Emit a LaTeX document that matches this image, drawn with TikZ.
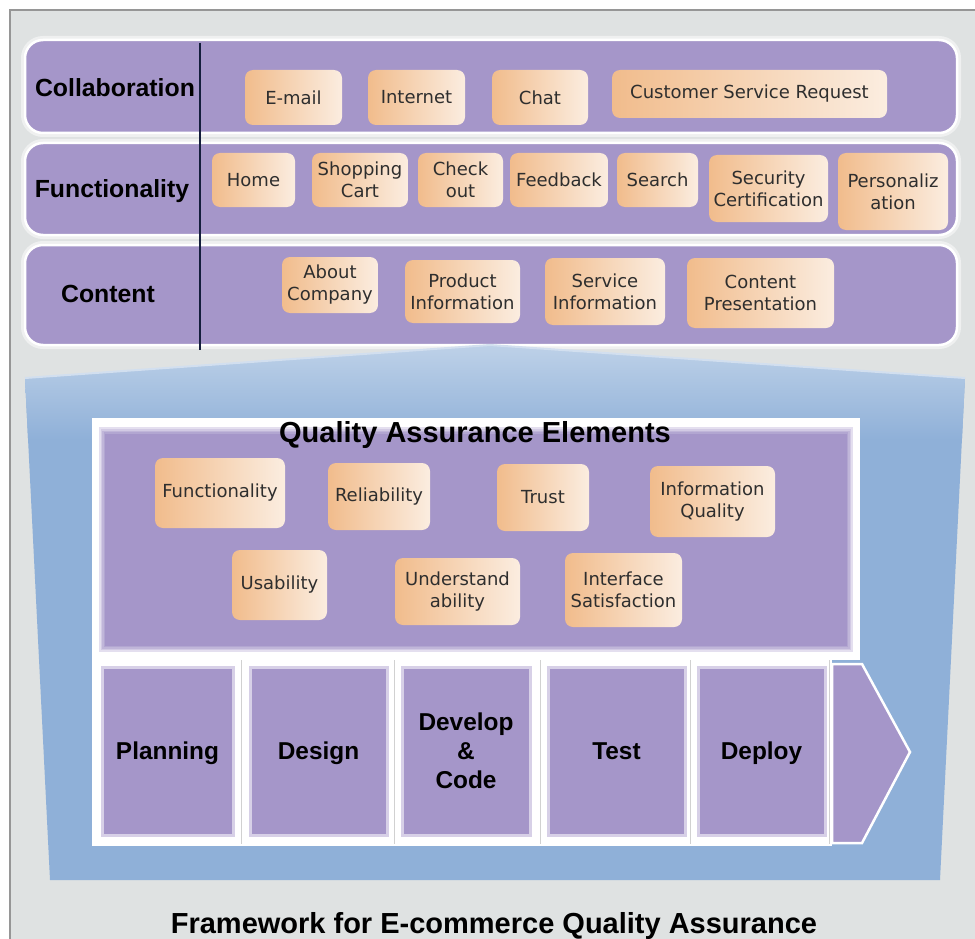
\documentclass[tikz,border=0pt]{standalone}
\usepackage{fontspec}
\setmainfont{DejaVu Sans}
\newfontfamily\arialf{Liberation Sans}
\definecolor{framegray}{RGB}{223,226,226}
\definecolor{frameline}{RGB}{150,150,150}
\definecolor{bandpurple}{RGB}{165,150,201}
\definecolor{orL}{RGB}{241,188,140}
\definecolor{orM}{RGB}{248,222,196}
\definecolor{orR}{RGB}{251,237,224}
\definecolor{qablue}{RGB}{143,176,216}
\definecolor{qablueL}{RGB}{192,211,233}
\definecolor{navyline}{RGB}{20,30,60}
\tikzset{
  band/.style={fill=bandpurple, draw=white, line width=2.5, rounded corners=18, inner sep=0,
    preaction={draw=white, draw opacity=.5, line width=8, rounded corners=18}},
  obox/.style={rounded corners=8, left color=orL, middle color=orM, right color=orR, inner sep=0, align=center,
    font=\fontsize{18}{22}\selectfont, text=black!82},
  blabel/.style={anchor=base, font=\arialf\bfseries\fontsize{24.8}{29}\selectfont, text=black},
  title/.style={anchor=base, font=\arialf\bfseries\fontsize{29}{34}\selectfont, text=black},
  phase/.style={fill=bandpurple, draw=white!55!bandpurple, line width=3, inner sep=0, align=center,
    text depth=0pt, font=\arialf\bfseries\fontsize{24.4}{29}\selectfont, text=black},
  divider/.style={draw=black!18, line width=1}
}
\begin{document}
\begin{tikzpicture}[x=1pt,y=-1pt]
\useasboundingbox (0,0) rectangle (975,939);
\clip (0,0) rectangle (975,939);
\fill[white] (0,0) rectangle (975,939);
% frame
\filldraw[fill=framegray, draw=frameline, line width=1.2] (10,10) rectangle (990,960);

% top bands
\node[band, minimum width=932, minimum height=93] (collab) at (491,86.5) {};
\node[band, minimum width=932, minimum height=92] (func) at (491,189) {};
\node[band, minimum width=932, minimum height=100] (cont) at (491,295) {};

\node[blabel] (lcollab) at (115,97) {Collaboration};
\node[blabel] (lfunc) at (112,197) {Functionality};
\node[blabel] (lcont) at (108,302) {Content};

\draw[navyline, line width=2.5] (200,43) -- (200,350);

% collaboration row
\node[obox, minimum width=97, minimum height=55] (email) at (293.5,97.5) {E-mail};
\node[obox, minimum width=97, minimum height=55] (internet) at (416.5,97.5) {Internet};
\node[obox, minimum width=96, minimum height=55] (chat) at (540,97.5) {Chat};
\node[obox, minimum width=275, minimum height=48] (csr) at (749.5,94) {Customer Service Request};

% functionality row
\node[obox, minimum width=83, minimum height=54] (home) at (253.5,180) {Home};
\node[obox, minimum width=96, minimum height=54] (cart) at (360,180) {Shopping\\Cart};
\node[obox, minimum width=85, minimum height=54] (checkout) at (460.5,180) {Check\\out};
\node[obox, minimum width=98, minimum height=54] (feedback) at (559,180) {Feedback};
\node[obox, minimum width=81, minimum height=54] (search) at (657.5,180) {Search};
\node[obox, minimum width=119, minimum height=67] (security) at (768.5,188.5) {Security\\Certification};
\node[obox, minimum width=110, minimum height=77] (personal) at (893,191.5) {Personaliz\\ation};

% content row
\node[obox, minimum width=96, minimum height=56] (about) at (330,285) {About\\Company};
\node[obox, minimum width=115, minimum height=63] (product) at (462.5,291.5) {Product\\Information};
\node[obox, minimum width=120, minimum height=67] (service) at (605,291.5) {Service\\Information};
\node[obox, minimum width=147, minimum height=70] (contentp) at (760.5,293) {Content\\Presentation};

% blue trapezoid
\fill[qablue] (25,378) -- (490,345) -- (965,378) -- (940,880) -- (50,880) -- cycle;
\begin{scope}
  \clip (25,378) -- (490,345) -- (965,378) -- (940,880) -- (50,880) -- cycle;
  \shade[top color=qablueL, bottom color=qablue] (0,340) rectangle (975,440);
\end{scope}
\draw[white!60!qablue, line width=2] (25,378) -- (490,345) -- (965,378);

% QA elements box
\node[fill=white, minimum width=768, minimum height=242, inner sep=0] (qabox) at (476,539) {};
\foreach \i/\c in {0/30,1/50,2/70,3/85,4/100}
  \fill[bandpurple!\c!white] (99+1.6*\i,427+1.8*\i) rectangle (853-1.6*\i,652-1.6*\i);
\node[title] (qatitle) at (475,442) {Quality Assurance Elements};

\node[obox, minimum width=130, minimum height=70] (qfunc) at (220,493) {Functionality};
\node[obox, minimum width=102, minimum height=67] (qrel) at (379,496.5) {Reliability};
\node[obox, minimum width=92, minimum height=67] (qtrust) at (543,497.5) {Trust};
\node[obox, minimum width=125, minimum height=71] (qinfo) at (712.5,501.5) {Information\\Quality};
\node[obox, minimum width=95, minimum height=70] (qusab) at (279.5,585) {Usability};
\node[obox, minimum width=125, minimum height=67] (qunder) at (457.5,591.5) {Understand\\ability};
\node[obox, minimum width=117, minimum height=74] (qiface) at (623.5,590) {Interface\\Satisfaction};

% phases row
\fill[white] (92,658) rectangle (832,846);
\draw[divider] (241.5,660) -- (241.5,844);
\draw[divider] (394,660) -- (394,844);
\draw[divider] (540,660) -- (540,844);
\draw[divider] (690,660) -- (690,844);
\draw[divider] (829,660) -- (829,844);
\node[phase, minimum width=131, minimum height=168] (plan) at (167.5,751) {Planning};
\node[phase, minimum width=137, minimum height=168] (design) at (318.5,751) {Design};
\node[phase, minimum width=128, minimum height=168] (develop) at (466,751) {Develop\\\&\\Code};
\node[phase, minimum width=137, minimum height=168] (test) at (616.5,751) {Test};
\node[phase, minimum width=127, minimum height=168] (deploy) at (761.5,751) {Deploy};
\filldraw[fill=bandpurple, draw=white, line width=2.5, line join=miter]
  (832,664) -- (862,664) -- (910,752) -- (862,843) -- (832,843) -- cycle;

\node[title] (fwtitle) at (494,933) {Framework for E-commerce Quality Assurance};
\end{tikzpicture}
\end{document}
